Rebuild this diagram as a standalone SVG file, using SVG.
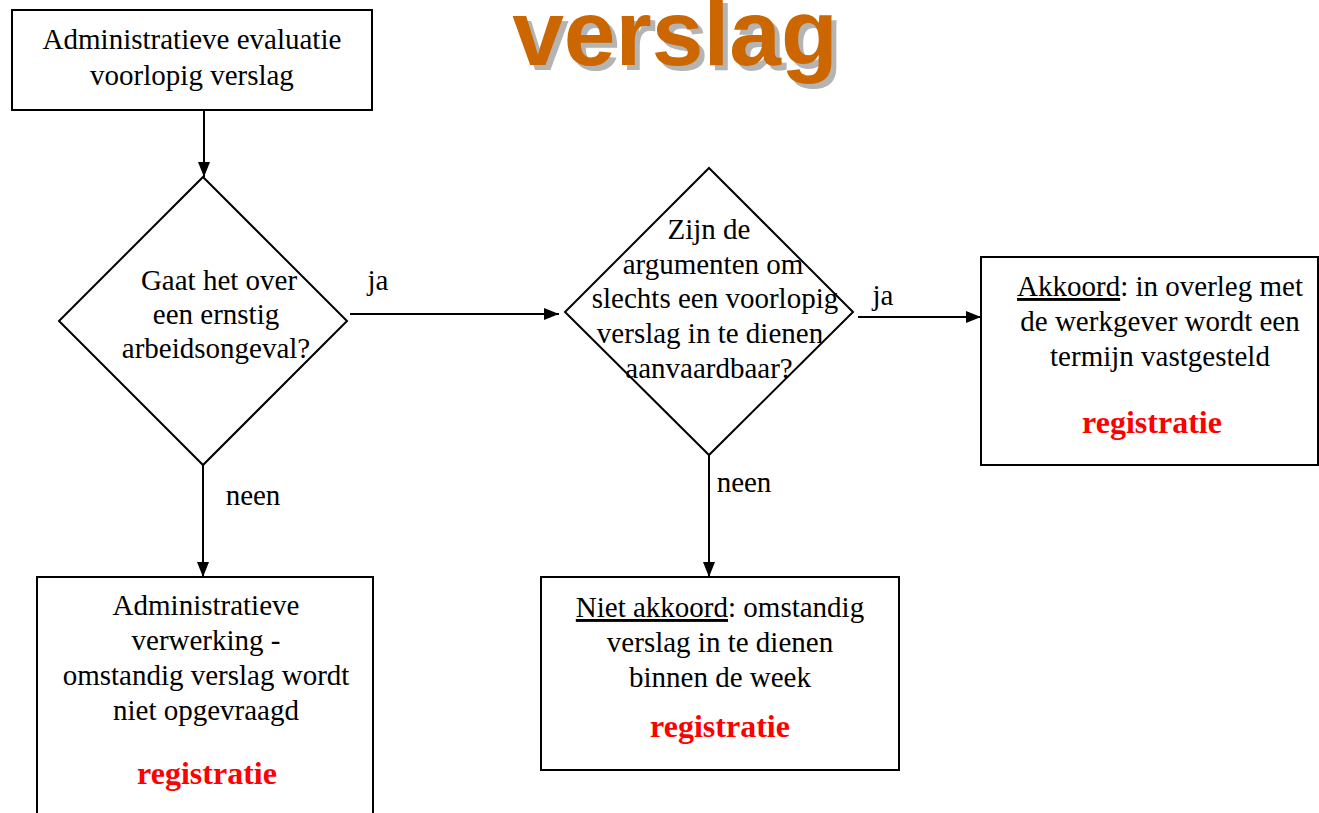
<svg xmlns="http://www.w3.org/2000/svg" width="1319" height="813" viewBox="0 0 1319 813">
  <style>
    .box { fill: #ffffff; stroke: #000000; stroke-width: 2; }
    .conn { fill: none; stroke: #000000; stroke-width: 2; }
    .t { font-family: 'Liberation Serif', serif; font-size: 29px; fill: #000000; text-anchor: middle; }
    .reg { font-family: 'Liberation Serif', serif; font-size: 32px; font-weight: bold; fill: #ff0000; text-anchor: middle; }
    .u { text-decoration: underline; }
    .title { font-family: 'Liberation Sans', sans-serif; font-size: 93px; font-weight: bold; text-anchor: middle; }
  </style>
  <defs>
    <marker id="arrow" markerUnits="userSpaceOnUse" markerWidth="16" markerHeight="12" refX="15" refY="6" orient="auto">
      <path d="M0,0 L15,6 L0,12 z" fill="#000000"/>
    </marker>
  </defs>
  <rect width="1319" height="813" fill="#ffffff"/>

  <!-- title with drop shadow -->
  <g id="title">
    <text class="title" x="680" y="70" fill="#b4b4b4">verslag</text>
    <text class="title" x="675" y="65" fill="#cc6600">verslag</text>
  </g>

  <!-- connectors -->
  <g id="connectors">
    <line class="conn" x1="204" y1="110" x2="204" y2="177" marker-end="url(#arrow)"/>
    <line class="conn" x1="350" y1="314" x2="559" y2="314" marker-end="url(#arrow)"/>
    <line class="conn" x1="858" y1="317" x2="981" y2="317" marker-end="url(#arrow)"/>
    <line class="conn" x1="203" y1="465" x2="203" y2="577" marker-end="url(#arrow)"/>
    <line class="conn" x1="709" y1="455" x2="709" y2="577" marker-end="url(#arrow)"/>
    <text class="t" x="378" y="290">ja</text>
    <text class="t" x="883" y="305">ja</text>
    <text class="t" x="253" y="505">neen</text>
    <text class="t" x="744" y="492">neen</text>
  </g>

  <g id="start">
    <rect class="box" x="12" y="10" width="360" height="100"/>
    <text class="t" x="192" y="49">Administratieve evaluatie</text>
    <text class="t" x="192" y="85">voorlopig verslag</text>
  </g>

  <g id="decision-ernstig">
    <polygon class="box" points="203,177 347,321 203,465 59,321"/>
    <text class="t" x="219" y="290">Gaat het over</text>
    <text class="t" x="216" y="324">een ernstig</text>
    <text class="t" x="216" y="358">arbeidsongeval?</text>
  </g>

  <g id="decision-argumenten">
    <polygon class="box" points="709,168 853,312 709,455 565,312"/>
    <text class="t" x="709" y="239">Zijn de</text>
    <text class="t" x="713" y="274">argumenten om</text>
    <text class="t" x="715" y="308">slechts een voorlopig</text>
    <text class="t" x="710" y="343">verslag in te dienen</text>
    <text class="t" x="709" y="378">aanvaardbaar?</text>
  </g>

  <g id="akkoord">
    <rect class="box" x="981" y="257" width="337" height="208"/>
    <text class="t" x="1160" y="296"><tspan class="u">Akkoord</tspan>: in overleg met</text>
    <text class="t" x="1160" y="331">de werkgever wordt een</text>
    <text class="t" x="1160" y="366">termijn vastgesteld</text>
    <text class="reg" x="1152" y="433">registratie</text>
  </g>

  <g id="administratieve-verwerking">
    <rect class="box" x="37" y="577" width="336" height="250"/>
    <text class="t" x="206" y="615">Administratieve</text>
    <text class="t" x="206" y="650">verwerking -</text>
    <text class="t" x="206" y="685">omstandig verslag wordt</text>
    <text class="t" x="206" y="720">niet opgevraagd</text>
    <text class="reg" x="207" y="784">registratie</text>
  </g>

  <g id="niet-akkoord">
    <rect class="box" x="541" y="577" width="358" height="193"/>
    <text class="t" x="720" y="617"><tspan class="u">Niet akkoord</tspan>: omstandig</text>
    <text class="t" x="720" y="652">verslag in te dienen</text>
    <text class="t" x="720" y="687">binnen de week</text>
    <text class="reg" x="720" y="737">registratie</text>
  </g>
</svg>
